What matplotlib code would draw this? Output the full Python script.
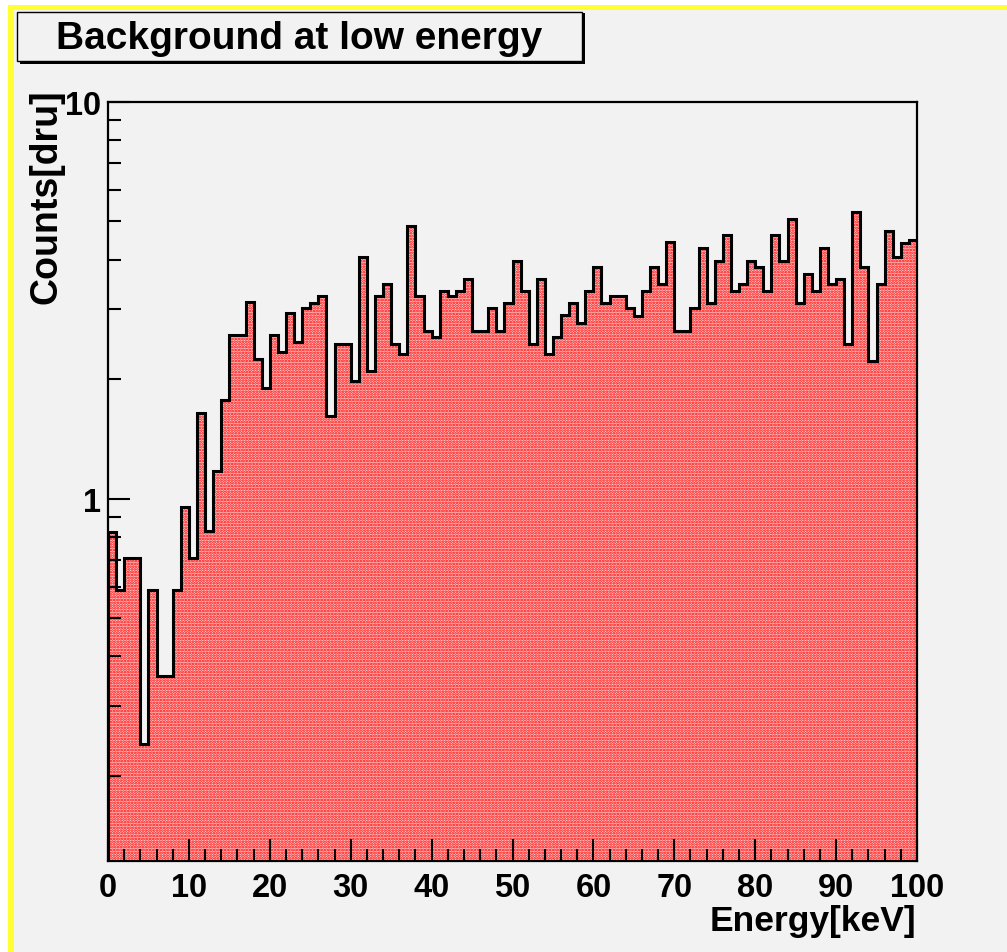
import numpy as np
import matplotlib
matplotlib.use("Agg")
import matplotlib.pyplot as plt
from matplotlib.patches import Rectangle
from matplotlib.ticker import FixedLocator, NullFormatter

# histogram: 100 bins of 1 keV, counts
e_lo, e_hi, n_bins = 0, 100, 100
counts = [0.825, 0.588, 0.707, 0.707, 0.240, 0.588, 0.358, 0.358, 0.588, 0.954,
          0.707, 1.647, 0.83, 1.174, 1.77, 2.58, 2.58, 3.14, 2.25, 1.90,
          2.58, 2.34, 2.93, 2.48, 3.03, 3.11, 3.25, 1.62, 2.45, 2.45,
          1.98, 4.07, 2.10, 3.25, 3.48, 2.45, 2.32, 4.86, 3.25, 2.65,
          2.55, 3.34, 3.25, 3.34, 3.58, 2.65, 2.65, 3.02, 2.65, 3.11,
          3.97, 3.34, 2.45, 3.58, 2.32, 2.56, 2.91, 3.11, 2.78, 3.34,
          3.84, 3.11, 3.25, 3.25, 3.03, 2.89, 3.34, 3.84, 3.48, 4.44,
          2.65, 2.65, 3.03, 4.29, 3.11, 3.97, 4.61, 3.34, 3.48, 3.97,
          3.84, 3.34, 4.61, 3.97, 5.08, 3.11, 3.68, 3.34, 4.29, 3.48,
          3.58, 2.45, 5.29, 3.84, 2.22, 3.48, 4.74, 4.06, 4.41, 4.48]
x_ticks = [0, 10, 20, 30, 40, 50, 60, 70, 80, 90, 100]
y_ticks = [1, 10]
y_min, y_max = 0.122, 10

title = "Background at low energy"
x_title = "Energy[keV]"
y_title = "Counts[dru]"

plt.rcParams['font.family'] = ['Liberation Sans', 'DejaVu Sans']
plt.rcParams['hatch.linewidth'] = 1.3

W, H = 1007, 953
bg = '#f2f2f2'
fig = plt.figure(figsize=(W / 100, H / 100), dpi=100)
fig.patch.set_facecolor('white')

# canvas background and the yellow border (top and left)
fig.patches.append(Rectangle((8 / W, 0), 1, 1 - 6 / H, transform=fig.transFigure,
                             facecolor='#ffff33', edgecolor='none', zorder=-2))
fig.patches.append(Rectangle((14 / W, 0), 1, 1 - 11 / H, transform=fig.transFigure,
                             facecolor=bg, edgecolor='none', zorder=-1))

ax = fig.add_axes([108 / W, 1 - 862 / H, 809 / W, 759 / H])
ax.set_facecolor(bg)

# dotted red fill, then the black outline on top
edges = np.linspace(e_lo, e_hi, n_bins + 1)
ax.stairs(counts, edges, baseline=1e-3, fill=True, facecolor='#ffcaca',
          edgecolor='#ff0000', hatch='......', linewidth=0, zorder=1)
ax.stairs(counts, edges, baseline=1e-3, color='black', linewidth=2.2, zorder=2)

ax.set_yscale('log')
ax.set_xlim(e_lo, e_hi)
ax.set_ylim(y_min, y_max)

ax.xaxis.set_major_locator(FixedLocator(x_ticks))
ax.xaxis.set_minor_locator(FixedLocator(np.arange(0, 101, 2)))
ax.yaxis.set_major_locator(FixedLocator(y_ticks))
ax.yaxis.set_minor_locator(FixedLocator([0.2, 0.3, 0.4, 0.5, 0.6, 0.7, 0.8, 0.9,
                                         2, 3, 4, 5, 6, 7, 8, 9]))
ax.yaxis.set_minor_formatter(NullFormatter())
ax.set_yticklabels(['1', '10'])
ax.set_xticklabels([str(t) for t in x_ticks])

ax.tick_params(which='both', direction='in', top=False, right=False, width=1.5,
               zorder=3)
ax.tick_params(which='major', length=16)
ax.tick_params(which='minor', length=9)
ax.tick_params(axis='x', which='major', pad=8, labelsize=23.5)
ax.tick_params(axis='y', which='major', pad=5, labelsize=23.5)
for lab in ax.get_xticklabels() + ax.get_yticklabels():
    lab.set_fontweight('bold')
for sp in ax.spines.values():
    sp.set_linewidth(1.6)
    sp.set_zorder(4)

fig.text(916 / W, 1 - 922 / H, x_title, ha='right', va='center',
         fontsize=25.5, fontweight='bold')
fig.text(46 / W, 1 - 89 / H, y_title, ha='center', va='top', rotation=90,
         fontsize=27, fontweight='bold')

# title box with shadow
fig.patches.append(Rectangle((20 / W, 1 - 65 / H), 565 / W, 51 / H,
                             transform=fig.transFigure, facecolor='black',
                             edgecolor='none', zorder=1))
fig.patches.append(Rectangle((17 / W, 1 - 62 / H), 565 / W, 49 / H,
                             transform=fig.transFigure, facecolor=bg,
                             edgecolor='black', linewidth=1, zorder=2))
fig.text(299 / W, 1 - 39 / H, title, ha='center', va='center',
         fontsize=28, fontweight='bold')

fig.savefig('out.png', dpi=100, facecolor=fig.get_facecolor())
